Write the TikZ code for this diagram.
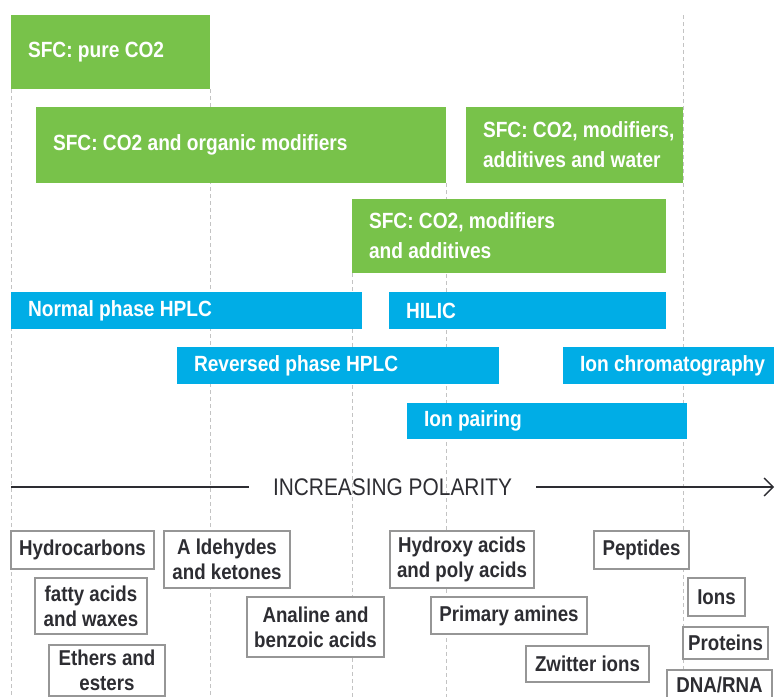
\documentclass[tikz,border=0pt]{standalone}
\usepackage{fontspec}
\setmainfont{Liberation Sans}[FakeStretch=0.87]
\usetikzlibrary{arrows.meta,backgrounds}
\definecolor{sfcgreen}{RGB}{120,194,74}
\definecolor{hplcblue}{RGB}{0,173,230}
\definecolor{labelgray}{RGB}{45,45,50}
\definecolor{guidegray}{RGB}{195,195,195}
\definecolor{framegray}{RGB}{150,150,150}

\begin{document}
\begin{tikzpicture}[x=1pt,y=-1pt]
\tikzset{every node/.style={outer sep=0pt}}
\tikzset{methodbox/.style={anchor=north west, inner sep=0pt}}
\tikzset{sfc/.style={methodbox, fill=sfcgreen}}
\tikzset{hplc/.style={methodbox, fill=hplcblue}}
\tikzset{methodtext/.style={anchor=west, xshift=17pt, inner sep=0pt, align=left, text=white, font=\fontsize{22}{30}\selectfont\bfseries}}
\tikzset{compound/.style={anchor=north west, draw=framegray, line width=1.2pt, fill=white, inner sep=0pt, align=center, text=labelgray, font=\fontsize{21.5}{25}\selectfont\bfseries}}
\tikzset{guide/.style={guidegray, line width=1pt, dash pattern=on 4pt off 3pt}}
\tikzset{axis/.style={labelgray, line width=1.3pt}}
\useasboundingbox (0,0) rectangle (775,696);
\clip (0,0) rectangle (775,696);
\coordinate (base) at (0,700);

\node[sfc, minimum width=199pt, minimum height=74pt] (pureco2) at (11,15) {};
\node[sfc, minimum width=410pt, minimum height=76pt] (organic) at (36,107) {};
\node[sfc, minimum width=217pt, minimum height=76pt] (water) at (466,107) {};
\node[sfc, minimum width=314pt, minimum height=74pt] (additives) at (352,199) {};
\node[hplc, minimum width=351pt, minimum height=37pt] (normal) at (11,292) {};
\node[hplc, minimum width=277pt, minimum height=37pt] (hilic) at (389,292) {};
\node[hplc, minimum width=322pt, minimum height=37pt] (reversed) at (177,347) {};
\node[hplc, minimum width=211pt, minimum height=37pt] (ionchrom) at (563,347) {};
\node[hplc, minimum width=280pt, minimum height=36pt] (ionpair) at (407,403) {};

\begin{scope}[on background layer]
\draw[guide] (pureco2.south west) -- (pureco2.south west |- base);
\draw[guide] (pureco2.south east) -- (pureco2.south east |- base);
\draw[guide] (additives.south west) -- (additives.south west |- base);
\draw[guide] (organic.south east) -- (organic.south east |- base);
\draw[guide] (water.east |- pureco2.north) -- (water.east |- base);
\end{scope}

\node[methodtext] (pureco2text) at (pureco2.west) {SFC: pure CO2};
\node[methodtext] (organictext) at (organic.west) {SFC: CO2 and organic modifiers};
\node[methodtext] (watertext) at (water.west) {SFC: CO2, modifiers,\\additives and water};
\node[methodtext] (additivestext) at (additives.west) {SFC: CO2, modifiers\\and additives};
\node[methodtext] (normaltext) at (normal.west) {Normal phase HPLC};
\node[methodtext] (hilictext) at (hilic.west) {HILIC};
\node[methodtext] (reversedtext) at (reversed.west) {Reversed phase HPLC};
\node[methodtext] (ionchromtext) at (ionchrom.west) {Ion chromatography};
\node[methodtext] (ionpairtext) at (ionpair.west) {Ion pairing};

\coordinate (axisleft) at (11,487);
\coordinate (axisright) at (774,487);
\node[inner xsep=24pt, text=labelgray, font=\fontsize{24}{28}\selectfont] (polarity) at (392.5,487) {INCREASING POLARITY};
\draw[axis] (axisleft) -- (polarity);
\draw[axis, -{Straight Barb[length=9pt, width=18pt]}] (polarity) -- (axisright);

\node[compound, minimum width=143pt, minimum height=38pt] (hydrocarbons) at (11,531) {Hydrocarbons};
\node[compound, minimum width=126pt, minimum height=57pt] (aldehydes) at (164,531) {A ldehydes\\and ketones};
\node[compound, minimum width=112pt, minimum height=56pt] (fattyacids) at (35,578) {fatty acids\\and waxes};
\node[compound, minimum width=137pt, minimum height=60pt] (analine) at (247,597) {Analine and\\benzoic acids};
\node[compound, minimum width=116pt, minimum height=51pt] (ethers) at (49,645) {Ethers and\\esters};
\node[compound, minimum width=144pt, minimum height=57pt] (hydroxy) at (390,531) {Hydroxy acids\\and poly acids};
\node[compound, minimum width=95pt, minimum height=38pt] (peptides) at (594,531) {Peptides};
\node[compound, minimum width=156pt, minimum height=37pt] (amines) at (431,597) {Primary amines};
\node[compound, minimum width=57pt, minimum height=38pt] (ions) at (688,578) {Ions};
\node[compound, minimum width=85pt, minimum height=32pt] (proteins) at (683,627) {Proteins};
\node[compound, minimum width=123pt, minimum height=36pt] (zwitter) at (526,646) {Zwitter ions};
\node[compound, minimum width=105pt, minimum height=29pt] (dnarna) at (667,670) {DNA/RNA};
\end{tikzpicture}
\end{document}
